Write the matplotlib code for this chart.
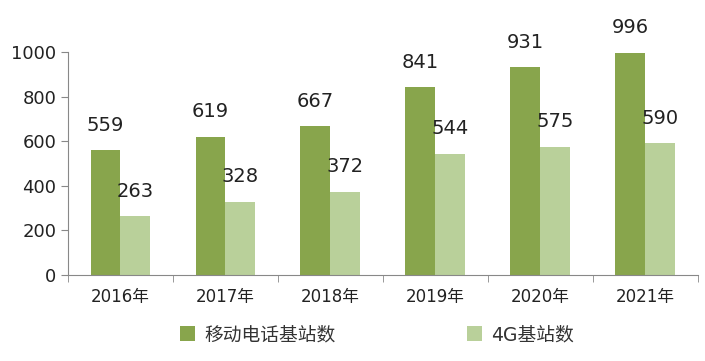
import matplotlib.pyplot as plt
import numpy as np

plt.rcParams['font.family'] = ['DejaVu Sans', 'Noto Sans CJK SC']

years = ['2016年', '2017年', '2018年', '2019年', '2020年', '2021年']
mobile = [559, 619, 667, 841, 931, 996]
g4 = [263, 328, 372, 544, 575, 590]

dark = '#88a54c'
light = '#b9d09a'

fig = plt.figure(figsize=(7.05, 3.61), dpi=100)
ax = fig.add_axes([0.0965, 0.238, 0.893, 0.618])

x = np.arange(len(years))
w = 0.285
b1 = ax.bar(x - w / 2, mobile, w, color=dark, label='移动电话基站数')
b2 = ax.bar(x + w / 2, g4, w, color=light, label='4G基站数')

for xi, v in zip(x, mobile):
    ax.text(xi - w / 2, v + 70, str(v), ha='center', va='bottom', fontsize=14, color='#222222', clip_on=False)
for xi, v in zip(x, g4):
    ax.text(xi + w / 2, v + 70, str(v), ha='center', va='bottom', fontsize=14, color='#222222', clip_on=False)

ax.set_xlim(-0.5, len(years) - 0.5)
ax.set_ylim(0, 1000)
ax.set_yticks(range(0, 1001, 200))
ax.tick_params(axis='y', labelsize=13, length=5, color='#888888', labelcolor='#222222')

# category labels centred, tick marks on category boundaries
ax.set_xticks(x)
ax.set_xticklabels(years, fontsize=12, color='#222222')
ax.tick_params(axis='x', length=0, pad=9)
ax.set_xticks(np.arange(-0.5, len(years)), minor=True)
ax.tick_params(axis='x', which='minor', length=5, color='#888888')

for s in ['top', 'right']:
    ax.spines[s].set_visible(False)
for s in ['left', 'bottom']:
    ax.spines[s].set_color('#888888')

leg = fig.legend(handles=[b1, b2], loc='lower center', bbox_to_anchor=(0.535, 0.0), ncol=2,
                 frameon=False, fontsize=13.5, columnspacing=7, handlelength=0.8, handleheight=0.8,
                 handletextpad=0.5)
for t in leg.get_texts():
    t.set_color('#333333')

fig.savefig('out.png', dpi=100)
